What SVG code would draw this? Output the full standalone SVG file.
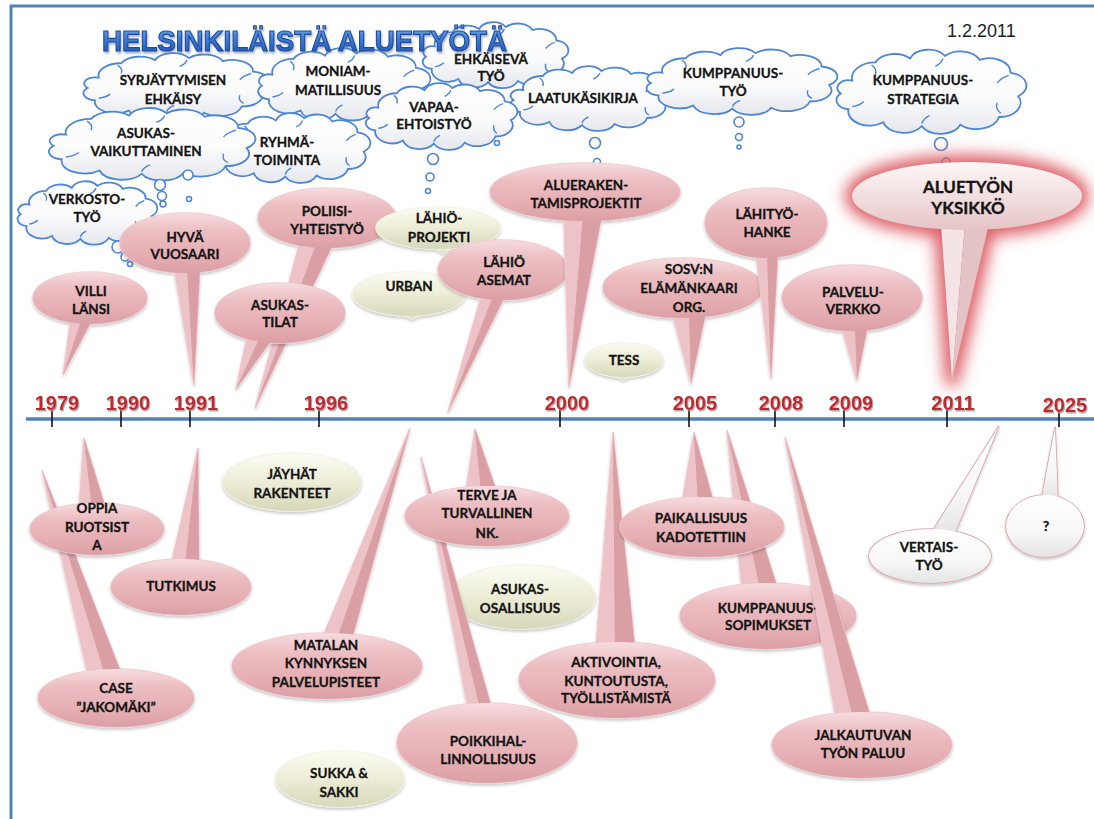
<svg xmlns="http://www.w3.org/2000/svg" xmlns:xlink="http://www.w3.org/1999/xlink" width="1094" height="819" viewBox="0 0 1094 819">
<defs>
<linearGradient id="gPink" x1="0" y1="0" x2="0" y2="1">
<stop offset="0" stop-color="#f6dcdf"/><stop offset="0.3" stop-color="#ecbec2"/><stop offset="0.7" stop-color="#e5aeb3"/><stop offset="1" stop-color="#db9fa5"/>
</linearGradient>
<linearGradient id="gCream" x1="0" y1="0" x2="0" y2="1">
<stop offset="0" stop-color="#fbfbf2"/><stop offset="0.5" stop-color="#ededd7"/><stop offset="1" stop-color="#d7d7ba"/>
</linearGradient>
<linearGradient id="gWhite" x1="0" y1="0" x2="0" y2="1">
<stop offset="0" stop-color="#ffffff"/><stop offset="0.6" stop-color="#f7f7f7"/><stop offset="1" stop-color="#e4e4e4"/>
</linearGradient>
<linearGradient id="gCloud" x1="0" y1="0" x2="0" y2="1">
<stop offset="0" stop-color="#ffffff"/><stop offset="0.55" stop-color="#fbfbfc"/><stop offset="1" stop-color="#e4e7ed"/>
</linearGradient>
<linearGradient id="gBig" x1="0" y1="0" x2="0" y2="1">
<stop offset="0" stop-color="#fdf7f7"/><stop offset="0.5" stop-color="#f2dfe0"/><stop offset="1" stop-color="#e6c4c6"/>
</linearGradient>
<linearGradient id="gTitle" x1="0" y1="0" x2="0" y2="1">
<stop offset="0" stop-color="#7fb0ee"/><stop offset="0.45" stop-color="#3f7dd6"/><stop offset="1" stop-color="#1a4fae"/>
</linearGradient>
<filter id="sh" x="-20%" y="-20%" width="140%" height="160%"><feDropShadow dx="0" dy="2" stdDeviation="1.5" flood-color="#000" flood-opacity="0.22"/></filter>
<filter id="ysh" x="-10%" y="-20%" width="130%" height="150%"><feDropShadow dx="1" dy="1.5" stdDeviation="0.7" flood-color="#999" flood-opacity="0.8"/></filter>
<filter id="tsh" x="-5%" y="-20%" width="110%" height="150%"><feDropShadow dx="1" dy="2" stdDeviation="1.2" flood-color="#6a7c98" flood-opacity="0.6"/></filter>
<filter id="glow" x="-40%" y="-40%" width="180%" height="180%"><feGaussianBlur stdDeviation="8"/></filter>
<path id="cloud" d="M10,22 A12,12 0 0 1 22,8 A11,11 0 0 1 40,5 A10,10 0 0 1 58,3 A11,11 0 0 1 76,6 A11,11 0 0 1 92,16 A10,10 0 0 1 96,34 A11,11 0 0 1 86,50 A12,12 0 0 1 66,56 A11,11 0 0 1 46,57 A11,11 0 0 1 26,54 A11,11 0 0 1 8,44 A7,7 0 0 1 4,32 A6,6 0 0 1 10,22 Z" fill="url(#gCloud)" stroke="#4f86d4" stroke-width="1.8" vector-effect="non-scaling-stroke"/>
<path id="cloudIn" d="M20,10 q3,3 2,8 M57,5 q-1,4 -4,6 M91,18 q-4,2 -6,6 M87,47 q-3,-3 -2,-8 M46,55 q1,-4 4,-6 M10,42 q4,-1 6,-4" fill="none" stroke="#4f86d4" stroke-width="1.4" vector-effect="non-scaling-stroke"/>
<style>
.t{font-family:Lato,"Liberation Sans",sans-serif;font-weight:700;font-size:13.5px;fill:#141414;stroke:#141414;stroke-width:0.3px;text-anchor:middle}
.tb{font-family:Lato,"Liberation Sans",sans-serif;font-weight:700;font-size:17px;fill:#141414;stroke:#141414;stroke-width:0.35px;text-anchor:middle}
.yr{font-family:"Liberation Sans",Arial,sans-serif;font-weight:700;font-size:20px;fill:#c3282e;text-anchor:middle;filter:url(#ysh)}
.pk{fill:url(#gPink)}
.pks{fill:#e1abb0;stroke:#efcbce;stroke-width:1.5}
.pl{fill:#edc3c7}
.pr{fill:#da9fa5}
.cr{fill:url(#gCream)}
.crs{fill:#e0e0c4;stroke:#f2f2e2;stroke-width:1.5}
.wh{fill:url(#gWhite)}
.whs{fill:#fff;stroke:#dc9ea2;stroke-width:1.6}
.bub{fill:#fff;stroke:#4f86d4;stroke-width:1.6}
.tick{stroke:#111;stroke-width:1.6}
</style>
</defs>
<rect x="0" y="0" width="1094" height="819" fill="#ffffff"/>
<g id="frame" fill="none" stroke="#4f81bd" stroke-width="3">
<path d="M11,819 V6 H1094"/>
</g>

<g id="clouds">
<g id="c-syrj"><use href="#cloud" transform="translate(80,55) scale(1.88,1.03)"/><use href="#cloudIn" transform="translate(80,55) scale(1.88,1.03)"/><text class="t" x="173" y="85">SYRJÄYTYMISEN</text><text class="t" x="173" y="104">EHKÄISY</text></g>
<g id="c-moniam"><use href="#cloud" transform="translate(255,50) scale(1.75,1.12)"/><use href="#cloudIn" transform="translate(255,50) scale(1.75,1.12)"/><text class="t" x="338" y="76">MONIAM-</text><text class="t" x="338" y="95">MATILLISUUS</text></g>
<g id="c-ryhma"><use href="#cloud" transform="translate(213,115) scale(1.57,1.08)"/><use href="#cloudIn" transform="translate(213,115) scale(1.57,1.08)"/><text class="t" x="287" y="147">RYHMÄ-</text><text class="t" x="287" y="165">TOIMINTA</text></g>
<g id="c-asukas"><use href="#cloud" transform="translate(45,110) scale(2.1,1.12)"/><use href="#cloudIn" transform="translate(45,110) scale(2.1,1.12)"/><text class="t" x="146" y="138">ASUKAS-</text><text class="t" x="146" y="156">VAIKUTTAMINEN</text></g>
<g id="c-ehkaiseva"><use href="#cloud" transform="translate(420,24) scale(1.48,1.02)"/><use href="#cloudIn" transform="translate(420,24) scale(1.48,1.02)"/><text class="t" x="491" y="64">EHKÄISEVÄ</text><text class="t" x="491" y="81">TYÖ</text></g>
<g id="c-laatu"><use href="#cloud" transform="translate(507,68) scale(1.63,1.0)"/><use href="#cloudIn" transform="translate(507,68) scale(1.63,1.0)"/><text class="t" x="583" y="103">LAATUKÄSIKIRJA</text></g>
<g id="c-vapaa"><use href="#cloud" transform="translate(363,85) scale(1.54,1.03)"/><use href="#cloudIn" transform="translate(363,85) scale(1.54,1.03)"/><text class="t" x="434" y="112">VAPAA-</text><text class="t" x="434" y="129">EHTOISTYÖ</text></g>
<g id="c-kumptyo"><use href="#cloud" transform="translate(643,50) scale(1.94,1.03)"/><use href="#cloudIn" transform="translate(643,50) scale(1.94,1.03)"/><text class="t" x="733" y="78">KUMPPANUUS-</text><text class="t" x="733" y="96">TYÖ</text></g>
<g id="c-strategia"><use href="#cloud" transform="translate(833,52) scale(1.93,1.3)"/><use href="#cloudIn" transform="translate(833,52) scale(1.93,1.3)"/><text class="t" x="923" y="85">KUMPPANUUS-</text><text class="t" x="923" y="104">STRATEGIA</text></g>
<g id="c-verkosto"><use href="#cloud" transform="translate(15,183) scale(1.42,0.98)"/><use href="#cloudIn" transform="translate(15,183) scale(1.42,0.98)"/><text class="t" x="87" y="204">VERKOSTO-</text><text class="t" x="87" y="222">TYÖ</text></g>
<g id="thought-bubbles">
<circle class="bub" cx="188" cy="175" r="5"/><circle class="bub" cx="189" cy="199" r="2.5"/>
<circle class="bub" cx="160" cy="185" r="5.5"/><circle class="bub" cx="162" cy="196" r="4.5"/><circle class="bub" cx="163" cy="204" r="3"/>
<circle class="bub" cx="118" cy="247" r="6"/><circle class="bub" cx="125" cy="257" r="4"/><circle class="bub" cx="130" cy="264" r="2.5"/>
<circle class="bub" cx="433" cy="159" r="5.5"/><circle class="bub" cx="430" cy="177" r="4"/><circle class="bub" cx="428" cy="191" r="2.5"/>
<circle class="bub" cx="497" cy="143" r="2.5"/>
<circle class="bub" cx="595" cy="143" r="5.5"/><circle class="bub" cx="597" cy="162" r="3.5"/>
<circle class="bub" cx="739" cy="122" r="5"/><circle class="bub" cx="739" cy="137" r="3.5"/><circle class="bub" cx="739" cy="147" r="2"/>
<circle class="bub" cx="941" cy="144" r="6.5"/><circle class="bub" cx="946" cy="162" r="4"/>
</g>
</g>

<g id="title">
<text x="102" y="51" textLength="405" lengthAdjust="spacingAndGlyphs" font-family="'Liberation Sans',Arial,sans-serif" font-weight="700" font-size="30" fill="url(#gTitle)" stroke="#1d4c9e" stroke-width="1.2" filter="url(#tsh)">HELSINKILÄISTÄ ALUETYÖTÄ</text>
<text x="947" y="37" font-family="'Liberation Sans',Arial,sans-serif" font-size="18" fill="#222">1.2.2011</text>
</g>

<g id="timeline">
<line x1="26" y1="419" x2="1094" y2="419" stroke="#4f81bd" stroke-width="3.5"/>
<line class="tick" x1="52" y1="410" x2="52" y2="427"/>
<line class="tick" x1="121" y1="410" x2="121" y2="427"/>
<line class="tick" x1="190" y1="410" x2="190" y2="427"/>
<line class="tick" x1="319" y1="410" x2="319" y2="427"/>
<line class="tick" x1="560" y1="410" x2="560" y2="427"/>
<line class="tick" x1="689" y1="410" x2="689" y2="427"/>
<line class="tick" x1="775" y1="410" x2="775" y2="427"/>
<line class="tick" x1="844" y1="410" x2="844" y2="427"/>
<line class="tick" x1="947" y1="410" x2="947" y2="427"/>
<line class="tick" x1="1059" y1="410" x2="1059" y2="427"/>
<text class="yr" x="57" y="410">1979</text>
<text class="yr" x="128" y="410">1990</text>
<text class="yr" x="196" y="410">1991</text>
<text class="yr" x="326" y="410">1996</text>
<text class="yr" x="567" y="410">2000</text>
<text class="yr" x="695" y="410">2005</text>
<text class="yr" x="781" y="410">2008</text>
<text class="yr" x="851" y="410">2009</text>
<text class="yr" x="953" y="410">2011</text>
<text class="yr" x="1065" y="412">2025</text>
</g>

<g id="connectors">
<!-- callout pointers are drawn with their callouts -->
</g>

<g id="n-villi"><g filter="url(#sh)"><ellipse class="pks" cx="90" cy="298" rx="57" ry="26"/><polygon class="pks" points="63,375 71,318 93,318"/></g><polygon class="pl" points="63,375 71,318 82,318"/><polygon class="pr" points="63,375 82,318 93,318"/><ellipse class="pk" cx="90" cy="298" rx="57" ry="26"/><text class="t" x="91" y="296">VILLI</text><text class="t" x="91" y="314">LÄNSI</text></g>

<g id="n-hyva"><g filter="url(#sh)"><ellipse class="pks" cx="185" cy="243" rx="65" ry="30"/><polygon class="pks" points="194,385 174,267 200,267"/></g><polygon class="pl" points="194,385 174,267 187,267"/><polygon class="pr" points="194,385 187,267 200,267"/><ellipse class="pk" cx="185" cy="243" rx="65" ry="30"/><text class="t" x="185" y="242">HYVÄ</text><text class="t" x="185" y="259">VUOSAARI</text></g>

<g id="n-poliisi"><g filter="url(#sh)"><ellipse class="pks" cx="327" cy="218" rx="69" ry="30"/><polygon class="pks" points="255,408 300,242 334,242"/></g><polygon class="pl" points="255,408 300,242 317,242"/><polygon class="pr" points="255,408 317,242 334,242"/><ellipse class="pk" cx="327" cy="218" rx="69" ry="30"/><text class="t" x="327" y="216">POLIISI-</text><text class="t" x="327" y="234">YHTEISTYÖ</text></g>

<g id="n-asukastilat"><g filter="url(#sh)"><ellipse class="pks" cx="280" cy="313" rx="65" ry="30"/><polygon class="pks" points="236,389 247,337 274,337"/></g><polygon class="pl" points="236,389 247,337 260,337"/><polygon class="pr" points="236,389 260,337 274,337"/><ellipse class="pk" cx="280" cy="313" rx="65" ry="30"/><text class="t" x="280" y="310">ASUKAS-</text><text class="t" x="280" y="327">TILAT</text></g>

<g id="n-lahioprojekti"><g filter="url(#sh)"><ellipse class="crs" cx="438" cy="228" rx="62" ry="21"/><polygon class="crs" points="431,246 455,246 443,253"/></g><polygon class="cr" points="431,246 455,246 443,253"/><ellipse class="cr" cx="438" cy="228" rx="62" ry="21"/><text class="t" x="439" y="223">LÄHIÖ-</text><text class="t" x="439" y="242">PROJEKTI</text></g>

<g id="n-urban"><g filter="url(#sh)"><ellipse class="crs" cx="409" cy="294" rx="56" ry="22"/><polygon class="crs" points="400,313 424,313 412,319"/></g><polygon class="cr" points="400,313 424,313 412,319"/><ellipse class="cr" cx="409" cy="294" rx="56" ry="22"/><text class="t" x="409" y="291">URBAN</text></g>

<g id="n-asemat"><g filter="url(#sh)"><ellipse class="pks" cx="503" cy="270" rx="65" ry="30"/><polygon class="pks" points="448,412 482,294 506,294"/></g><polygon class="pl" points="448,412 482,294 494,294"/><polygon class="pr" points="448,412 494,294 506,294"/><ellipse class="pk" cx="503" cy="270" rx="65" ry="30"/><text class="t" x="504" y="267">LÄHIÖ</text><text class="t" x="504" y="285">ASEMAT</text></g>

<g id="n-aluerak"><g filter="url(#sh)"><ellipse class="pks" cx="585" cy="192" rx="95" ry="29"/><polygon class="pks" points="569,387 564,215 602,215"/></g><polygon class="pl" points="569,387 564,215 583,215"/><polygon class="pr" points="569,387 583,215 602,215"/><ellipse class="pk" cx="585" cy="192" rx="95" ry="29"/><text class="t" x="586" y="190">ALUERAKEN-</text><text class="t" x="586" y="208">TAMISPROJEKTIT</text></g>

<g id="n-tess"><g filter="url(#sh)"><ellipse class="crs" cx="624" cy="360" rx="39" ry="17"/><polygon class="crs" points="613,374 633,374 623,380"/></g><polygon class="cr" points="613,374 633,374 623,380"/><ellipse class="cr" cx="624" cy="360" rx="39" ry="17"/><text class="t" x="624" y="365">TESS</text></g>

<g id="n-sosv"><g filter="url(#sh)"><ellipse class="pks" cx="683" cy="288" rx="80" ry="30"/><polygon class="pks" points="691,383 672,312 706,312"/></g><polygon class="pl" points="691,383 672,312 689,312"/><polygon class="pr" points="691,383 689,312 706,312"/><ellipse class="pk" cx="683" cy="288" rx="80" ry="30"/><text class="t" x="689" y="274">SOSV:N</text><text class="t" x="689" y="293">ELÄMÄNKAARI</text><text class="t" x="689" y="312">ORG.</text></g>

<g id="n-lahityo"><g filter="url(#sh)"><ellipse class="pks" cx="766" cy="223" rx="61" ry="35"/><polygon class="pks" points="771,378 756,252 778,252"/></g><polygon class="pl" points="771,378 756,252 767,252"/><polygon class="pr" points="771,378 767,252 778,252"/><ellipse class="pk" cx="766" cy="223" rx="61" ry="35"/><text class="t" x="767" y="219">LÄHITYÖ-</text><text class="t" x="767" y="237">HANKE</text></g>

<g id="n-palvelu"><g filter="url(#sh)"><ellipse class="pks" cx="852" cy="298" rx="70" ry="33"/><polygon class="pks" points="857,380 841,325 868,325"/></g><polygon class="pl" points="857,380 841,325 855,325"/><polygon class="pr" points="857,380 855,325 868,325"/><ellipse class="pk" cx="852" cy="298" rx="70" ry="33"/><text class="t" x="853" y="297">PALVELU-</text><text class="t" x="853" y="314">VERKKO</text></g>

<g id="n-aluetyon">
<g filter="url(#glow)" fill="#dc5c64" stroke="#dc5c64" stroke-width="14" stroke-linejoin="round"><ellipse cx="967" cy="196" rx="115" ry="34"/><polygon points="952,380 941,224 989,224"/></g>
<polygon points="952,380 941,224 965,224" fill="#f4e4e5"/><polygon points="952,380 965,224 989,224" fill="#e3c3c5"/>
<ellipse cx="967" cy="196" rx="115" ry="34" fill="url(#gBig)"/>
<text class="tb" x="968" y="193">ALUETYÖN</text><text class="tb" x="968" y="214">YKSIKKÖ</text></g>

<g id="n-case"><g filter="url(#sh)"><ellipse class="pks" cx="116" cy="698" rx="78" ry="29"/><polygon class="pks" points="42,470 88,675 122,675"/></g><polygon class="pl" points="42,470 88,675 105,675"/><polygon class="pr" points="42,470 105,675 122,675"/><ellipse class="pk" cx="116" cy="698" rx="78" ry="29"/><text class="t" x="116" y="693">CASE</text><text class="t" x="116" y="712">”JAKOMÄKI”</text></g>

<g id="n-oppia"><g filter="url(#sh)"><ellipse class="pks" cx="97" cy="529" rx="67" ry="26"/><polygon class="pks" points="84,438 79,509 106,509"/></g><polygon class="pl" points="84,438 79,509 92,509"/><polygon class="pr" points="84,438 92,509 106,509"/><ellipse class="pk" cx="97" cy="529" rx="67" ry="26"/><text class="t" x="97" y="513">OPPIA</text><text class="t" x="97" y="532">RUOTSIST</text><text class="t" x="97" y="550">A</text></g>

<g id="n-tutkimus"><g filter="url(#sh)"><ellipse class="pks" cx="181" cy="587" rx="70" ry="28"/><polygon class="pks" points="198,448 171,565 199,565"/></g><polygon class="pl" points="198,448 171,565 185,565"/><polygon class="pr" points="198,448 185,565 199,565"/><ellipse class="pk" cx="181" cy="587" rx="70" ry="28"/><text class="t" x="181" y="591">TUTKIMUS</text></g>

<g id="n-jayhat"><g filter="url(#sh)"><ellipse class="crs" cx="292" cy="482" rx="69" ry="29"/></g><ellipse class="cr" cx="292" cy="482" rx="69" ry="29"/><text class="t" x="292" y="479">JÄYHÄT</text><text class="t" x="292" y="498">RAKENTEET</text></g>

<g id="n-matalan"><g filter="url(#sh)"><ellipse class="pks" cx="327" cy="666" rx="95" ry="33"/><polygon class="pks" points="410,428 322,639 352,639"/></g><polygon class="pl" points="410,428 322,639 337,639"/><polygon class="pr" points="410,428 337,639 352,639"/><ellipse class="pk" cx="327" cy="666" rx="95" ry="33"/><text class="t" x="326" y="650">MATALAN</text><text class="t" x="326" y="668">KYNNYKSEN</text><text class="t" x="326" y="687">PALVELUPISTEET</text></g>

<g id="n-sukka"><g filter="url(#sh)"><ellipse class="crs" cx="340" cy="779" rx="64" ry="28"/></g><ellipse class="cr" cx="340" cy="779" rx="64" ry="28"/><text class="t" x="339" y="778">SUKKA &amp;</text><text class="t" x="339" y="797">SAKKI</text></g>

<g id="n-aktivointia"><g filter="url(#sh)"><ellipse class="pks" cx="617" cy="680" rx="98" ry="38"/><polygon class="pks" points="613,432 596,648 635,648"/></g><polygon class="pl" points="613,432 596,648 615,648"/><polygon class="pr" points="613,432 615,648 635,648"/><ellipse class="pk" cx="617" cy="680" rx="98" ry="38"/><text class="t" x="616" y="667">AKTIVOINTIA,</text><text class="t" x="616" y="686">KUNTOUTUSTA,</text><text class="t" x="616" y="703">TYÖLLISTÄMISTÄ</text></g>

<g id="n-asukasos"><g filter="url(#sh)"><ellipse class="crs" cx="522" cy="597" rx="73" ry="32"/></g><ellipse class="cr" cx="522" cy="597" rx="73" ry="32"/><text class="t" x="520" y="594">ASUKAS-</text><text class="t" x="520" y="613">OSALLISUUS</text></g>

<g id="n-poikki"><g filter="url(#sh)"><ellipse class="pks" cx="487" cy="743" rx="90" ry="40"/><polygon class="pks" points="421,457 468,709 492,709"/></g><polygon class="pl" points="421,457 468,709 480,709"/><polygon class="pr" points="421,457 480,709 492,709"/><ellipse class="pk" cx="487" cy="743" rx="90" ry="40"/><text class="t" x="488" y="746">POIKKIHAL-</text><text class="t" x="488" y="764">LINNOLLISUUS</text></g>

<g id="n-terve"><g filter="url(#sh)"><ellipse class="pks" cx="487" cy="516" rx="82" ry="30"/><polygon class="pks" points="475,429 466,492 497,492"/></g><polygon class="pl" points="475,429 466,492 481,492"/><polygon class="pr" points="475,429 481,492 497,492"/><ellipse class="pk" cx="487" cy="516" rx="82" ry="30"/><text class="t" x="487" y="500">TERVE JA</text><text class="t" x="487" y="518">TURVALLINEN</text><text class="t" x="487" y="538">NK.</text></g>

<g id="n-kumpsop"><g filter="url(#sh)"><ellipse class="pks" cx="768" cy="616" rx="88" ry="33"/><polygon class="pks" points="727,430 742,589 778,589"/></g><polygon class="pl" points="727,430 742,589 760,589"/><polygon class="pr" points="727,430 760,589 778,589"/><ellipse class="pk" cx="768" cy="616" rx="88" ry="33"/><text class="t" x="768" y="613">KUMPPANUUS-</text><text class="t" x="768" y="630">SOPIMUKSET</text></g>

<g id="n-paikall"><g filter="url(#sh)"><ellipse class="pks" cx="702" cy="527" rx="82" ry="30"/><polygon class="pks" points="694,432 682,503 714,503"/></g><polygon class="pl" points="694,432 682,503 698,503"/><polygon class="pr" points="694,432 698,503 714,503"/><ellipse class="pk" cx="702" cy="527" rx="82" ry="30"/><text class="t" x="701" y="523">PAIKALLISUUS</text><text class="t" x="701" y="542">KADOTETTIIN</text></g>

<g id="n-jalkautuvan"><g filter="url(#sh)"><ellipse class="pks" cx="862" cy="745" rx="90" ry="33"/><polygon class="pks" points="785,437 836,718 871,718"/></g><polygon class="pl" points="785,437 836,718 853,718"/><polygon class="pr" points="785,437 853,718 871,718"/><ellipse class="pk" cx="862" cy="745" rx="90" ry="33"/><text class="t" x="863" y="740">JALKAUTUVAN</text><text class="t" x="863" y="758">TYÖN PALUU</text></g>

<g id="n-vertais"><g filter="url(#sh)"><ellipse class="whs" cx="930" cy="556" rx="61" ry="27"/><polygon class="whs" points="999,426 930,535 954,535"/></g><polygon class="wh" points="999,426 930,535 954,535"/><ellipse class="wh" cx="930" cy="556" rx="61" ry="27"/><text class="t" x="929" y="552">VERTAIS-</text><text class="t" x="929" y="570">TYÖ</text></g>

<g id="n-question"><g filter="url(#sh)"><ellipse class="whs" cx="1045" cy="526" rx="39" ry="31"/><polygon class="whs" points="1055,427 1041,501 1058,501"/></g><polygon class="wh" points="1055,427 1041,501 1058,501"/><ellipse class="wh" cx="1045" cy="526" rx="39" ry="31"/><text class="t" x="1046" y="531">?</text></g>
</svg>
